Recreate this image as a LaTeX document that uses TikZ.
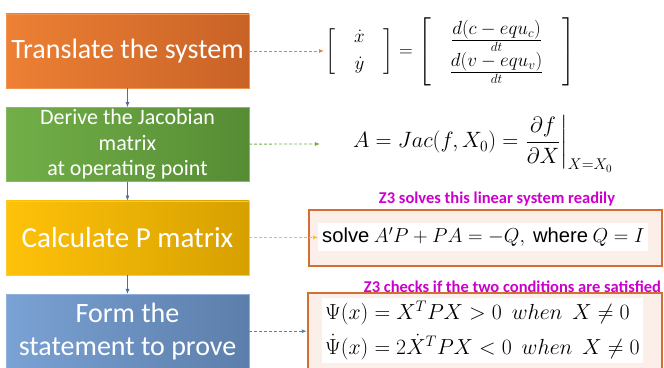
\RequirePackage{fix-cm}
\documentclass[tikz,border=0pt]{standalone}
\usepackage{amsmath,amssymb}
\usepackage{fontspec}
\setmainfont{Carlito}
\newfontfamily\helv{Liberation Sans}
\usetikzlibrary{arrows.meta, positioning}
\definecolor{orangeL}{RGB}{237,128,52}
\definecolor{orangeD}{RGB}{200,98,38}
\definecolor{greenL}{RGB}{114,175,72}
\definecolor{greenD}{RGB}{86,140,52}
\definecolor{goldL}{RGB}{255,194,10}
\definecolor{goldD}{RGB}{214,160,0}
\definecolor{blueL}{RGB}{122,162,212}
\definecolor{blueD}{RGB}{92,126,170}
\definecolor{flowblue}{RGB}{72,112,162}
\definecolor{frameorange}{RGB}{212,110,52}
\definecolor{framefill}{RGB}{252,238,232}
\definecolor{notemagenta}{RGB}{204,0,204}

\begin{document}
\begin{tikzpicture}[x=1pt, y=1pt,
        stage/.style={rectangle, draw=#1L!85!white, left color=#1L, right color=#1D, minimum width=243pt, minimum height=74pt, inner sep=0pt, align=center, text=white},
        flow/.style={-{Latex[length=5pt,width=4pt]}, color=flowblue, line width=0.8pt},
        link/.style={-{Latex[length=5pt,width=4pt]}, dash pattern=on 3pt off 2pt, line width=0.8pt, color=#1},
        frame/.style={rectangle, draw=frameorange, line width=2.5pt, fill=framefill, inner sep=0pt},
        eq/.style={fill=white, inner sep=3pt, font=\fontsize{22.2}{26}\selectfont},
        note/.style={text=notemagenta, font=\fontsize{16.5}{18}\selectfont\bfseries}
    ]
        \useasboundingbox (0,0) rectangle (664,367);

        % left column
        \node[stage=orange, font=\fontsize{28}{32}\selectfont] (translate) at (127.5,316) {Translate the system};
        \node[stage=green, font=\fontsize{22}{25.5}\selectfont, below=19pt of translate] (jacobian) {Derive the Jacobian\\matrix\\at operating point};
        \node[stage=gold, font=\fontsize{29}{32}\selectfont, below=19pt of jacobian] (pmatrix) {Calculate P matrix};
        \node[stage=blue, font=\fontsize{28}{33}\selectfont, below=19pt of pmatrix] (statement) {Form the\\statement to prove};

        % right column
        \node[frame, minimum width=353pt, minimum height=56pt] (solvebox) at (485.5,129) {};
        \node[frame, minimum width=354pt, minimum height=78pt] (condbox) at (485,35) {};

        \node[eq, anchor=west, inner sep=1pt, font=\fontsize{19}{22}\selectfont] (eqtrans) at (324,315) {\def\arraystretch{0.9}$\left[\begin{array}{@{\quad}c@{\quad}}\dot{x}\\[8pt] \dot{y}\end{array}\right] = \left[\begin{array}{@{\quad}c@{\quad}}\frac{\textstyle d(c-equ_c)}{dt}\\ \frac{\textstyle d(v-equ_v)}{dt}\end{array}\right]$};
        \node[eq, anchor=west] (eqjac) at (350,223) {$A = Jac(f, X_0) = \left.\dfrac{\partial f}{\partial X}\right|_{X=X_0}$};
        \coordinate (jacend) at (320,223);
        \node[eq, anchor=west, inner sep=4pt, font=\fontsize{20.2}{24}\selectfont] (eqsolve) at (318,130) {$\text{\helv solve}\ A'P + PA = -Q,\ \text{\helv where}\ Q = I$};
        \node[eq, anchor=west, align=left, font=\fontsize{21.8}{35}\selectfont] (eqcond) at (322,36.5) {$\Psi(x) = X^TPX > 0\ \ when\ \ X \neq 0$\\$\dot{\Psi}(x) = 2\dot{X}^TPX < 0\ \ when\ \ X \neq 0$};

        \node[note] (solvenote) at (497,168) {Z3 solves this linear system readily};
        \node[note] (condnote) at (512.5,80) {Z3 checks if the two conditions are satisfied};

        % connectors
        \draw[flow] (translate) -- (jacobian);
        \draw[flow] (jacobian) -- (pmatrix);
        \draw[flow] (pmatrix) -- (statement);
        \draw[link=orangeL] (translate.east) -- (translate.east -| eqtrans.west);
        \draw[link=greenL] (jacobian) -- (jacend);
        \draw[link=goldL] (pmatrix) -- (eqsolve);
        \draw[link=blueD] (statement.east) -- (statement.east -| condbox.west);
    \end{tikzpicture}
\end{document}
